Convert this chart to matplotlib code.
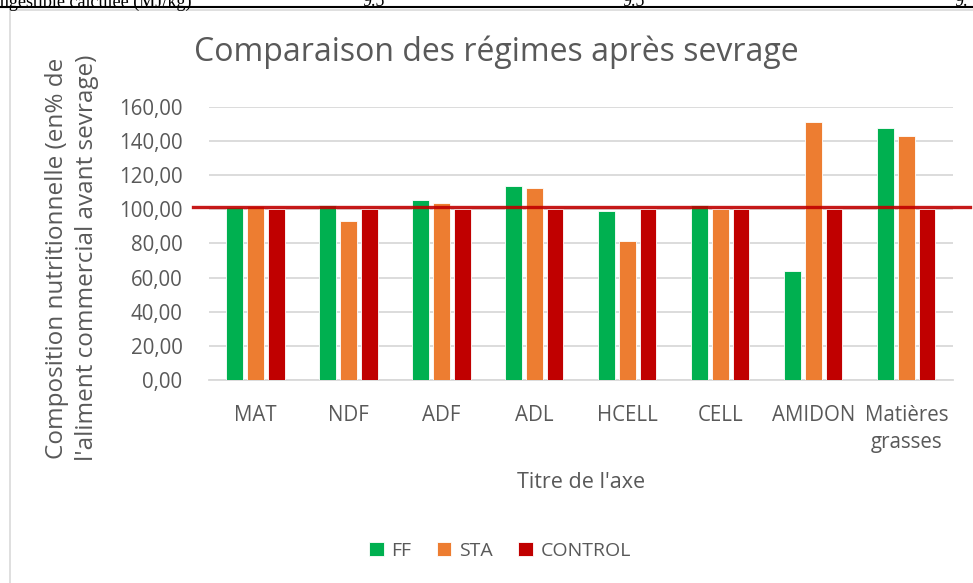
import numpy as np
import matplotlib.pyplot as plt
from matplotlib.patches import Rectangle
from matplotlib.lines import Line2D

plt.rcParams['font.family'] = ['Open Sans', 'DejaVu Sans']

# Composition des régimes (en % de l'aliment commercial avant sevrage)
categories = ["MAT", "NDF", "ADF", "ADL", "HCELL", "CELL", "AMIDON", "Matières\ngrasses"]
ff = [101.5, 102.4, 105.6, 113.6, 98.8, 102.4, 64.0, 147.4]
sta = [101.9, 93.1, 103.4, 112.4, 81.2, 100.0, 151.0, 142.7]
control = [100, 100, 100, 100, 100, 100, 100, 100]
reference = 101.5

series = [("FF", ff, "#00B050"), ("STA", sta, "#ED7D31"), ("CONTROL", control, "#C00000")]
txt = "#595959"

fig = plt.figure(figsize=(9.73, 5.83), dpi=100)
ax = fig.add_axes([0.2148, 0.3482, 0.7646, 0.4688])

# cadre du graphique et bas du tableau au-dessus
fig.patches.append(Rectangle((9.5 / 973, -0.01), 1.0, (583 - 9.5) / 583 + 0.01,
                             transform=fig.transFigure, fill=False,
                             edgecolor="#D9D9D9", linewidth=1.2))
fig.lines.append(Line2D([0, 1], [1 - 7 / 583, 1 - 7 / 583], transform=fig.transFigure,
                        color="black", linewidth=1.5))
fig.text(-0.005, 1 - 2 / 583, "ingestible calculée (MJ/kg)", family="Liberation Serif",
         fontsize=13, va="center", ha="left", color="black")
for xpos, val in [(0.372, "9.5"), (0.640, "9.5"), (0.981, "9.")]:
    fig.text(xpos, 1 - 2 / 583, val, family="Liberation Serif", fontsize=13,
             va="center", ha="left", color="black")

x = np.arange(len(categories))
w = 0.18
step = 0.222
for i, (name, vals, col) in enumerate(series):
    ax.bar(x + (i - 1) * step, vals, width=w, color=col, label=name,
           edgecolor="white", linewidth=0.6, zorder=3)

# ligne de référence
ax.axhline(reference, xmin=-0.021, xmax=1.023, color="#C00000", linewidth=2.4,
           alpha=0.9, clip_on=False, zorder=4)

ax.set_xlim(-0.5, len(categories) - 0.5)
ax.set_ylim(0, 160)
ax.set_yticks(np.arange(0, 161, 20))
ax.set_yticklabels([f"{v:.2f}".replace(".", ",") for v in np.arange(0, 161, 20)])
ax.set_xticks(x)
ax.set_xticklabels(categories, linespacing=1.35)
ax.yaxis.grid(True, color="#D9D9D9", linewidth=1.3, zorder=0)
ax.set_axisbelow(True)
for s in ["top", "right", "left"]:
    ax.spines[s].set_visible(False)
ax.spines["bottom"].set_color("#D9D9D9")
ax.spines["bottom"].set_linewidth(1.3)
ax.tick_params(axis="both", length=0, colors=txt)
ax.tick_params(axis="y", labelsize=14.8, pad=19)
ax.tick_params(axis="x", labelsize=14.8, pad=18)

fig.text(496 / 973, 1 - 52 / 583, "Comparaison des régimes après sevrage", fontsize=23,
         color=txt, ha="center", va="center")
fig.text(581 / 973, 1 - 482 / 583, "Titre de l'axe", fontsize=15.5, color=txt,
         ha="center", va="center")
fig.text(72 / 973, 1 - 258 / 583,
         "Composition nutritionnelle (en% de\nl'aliment commercial avant sevrage)",
         fontsize=17.5, color=txt, rotation=90, ha="center", va="center",
         linespacing=1.38, multialignment="center")

ax.legend(loc="center", bbox_to_anchor=(500 / 973, 1 - 551 / 583),
          bbox_transform=fig.transFigure, ncol=3, frameon=False, fontsize=14,
          handlelength=0.75, handleheight=0.75, handletextpad=0.4, columnspacing=1.3,
          labelcolor=txt)

plt.savefig("out.png", dpi=100)
